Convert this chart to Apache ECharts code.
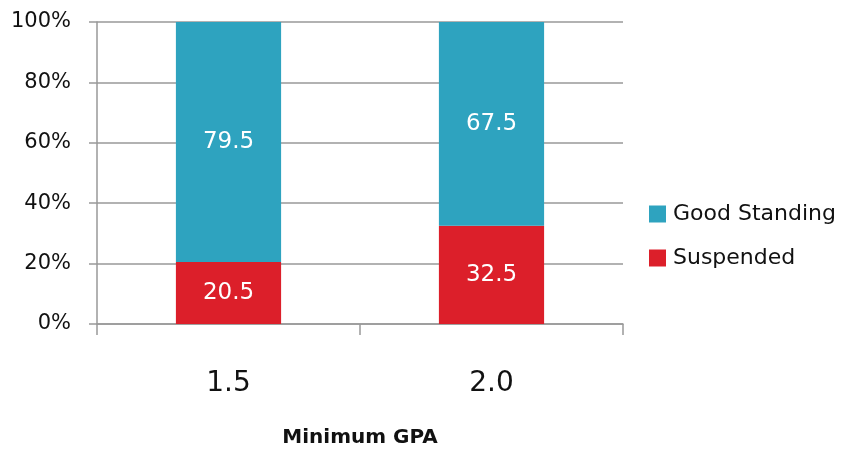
<!DOCTYPE html>
<html><head><meta charset="utf-8">
<script src="https://cdn.jsdelivr.net/npm/echarts@6/dist/echarts.min.js"></script>
<style>html,body{margin:0;padding:0;background:#fff}#c{width:846px;height:451px}</style>
</head><body><div id="c"></div>
<script>
const categories = ['1.5', '2.0'];
const suspended = [20.5, 32.5];
const goodStanding = [79.5, 67.5];
const yTicks = [0, 20, 40, 60, 80, 100];
const xAxisTitle = 'Minimum GPA';

const FONT = 'DejaVu Sans';
const chart = echarts.init(document.getElementById('c'), null, {renderer: 'canvas'});
const labelStyle = {show: true, position: 'inside', color: '#fff', fontSize: 23, fontFamily: FONT, formatter: p => p.value.toFixed(1)};
chart.setOption({
  animation: false,
  textStyle: {fontFamily: FONT},
  grid: {left: 97, right: 223, top: 22, bottom: 127, containLabel: false, outerBoundsMode: 'none'},
  legend: {
    orient: 'vertical', left: 644, top: 198, itemWidth: 17, itemHeight: 17, itemGap: 22,
    icon: 'rect', data: ['Good Standing', 'Suspended'],
    textStyle: {fontSize: 22, color: '#111', fontFamily: FONT, padding: [0, 0, 0, 2]}
  },
  xAxis: {
    type: 'category', data: categories,
    name: xAxisTitle, nameLocation: 'middle', nameGap: 104,
    nameTextStyle: {fontSize: 20, color: '#111', fontWeight: 'bold', fontFamily: FONT},
    axisLine: {lineStyle: {color: '#999', width: 1.5}},
    axisTick: {show: true, length: 11, lineStyle: {color: '#999', width: 1.5}},
    axisLabel: {fontSize: 28, color: '#111', margin: 46, fontFamily: FONT}
  },
  yAxis: {
    type: 'value', min: 0, max: 100, interval: 20,
    axisLine: {show: true, lineStyle: {color: '#999', width: 1.5}},
    axisTick: {show: true, length: 8, lineStyle: {color: '#999', width: 1.5}},
    splitLine: {lineStyle: {color: '#999', width: 1.5}},
    axisLabel: {fontSize: 21, color: '#111', margin: 26, fontFamily: FONT,
      formatter: v => yTicks.includes(v) ? v + '%' : ''}
  },
  series: [
    {name: 'Suspended', type: 'bar', stack: 'a', data: suspended, barWidth: '40%',
     itemStyle: {color: '#DC1F2A'}, label: labelStyle},
    {name: 'Good Standing', type: 'bar', stack: 'a', data: goodStanding, barWidth: '40%',
     itemStyle: {color: '#2EA3BF'}, label: labelStyle}
  ]
});
</script></body></html>
